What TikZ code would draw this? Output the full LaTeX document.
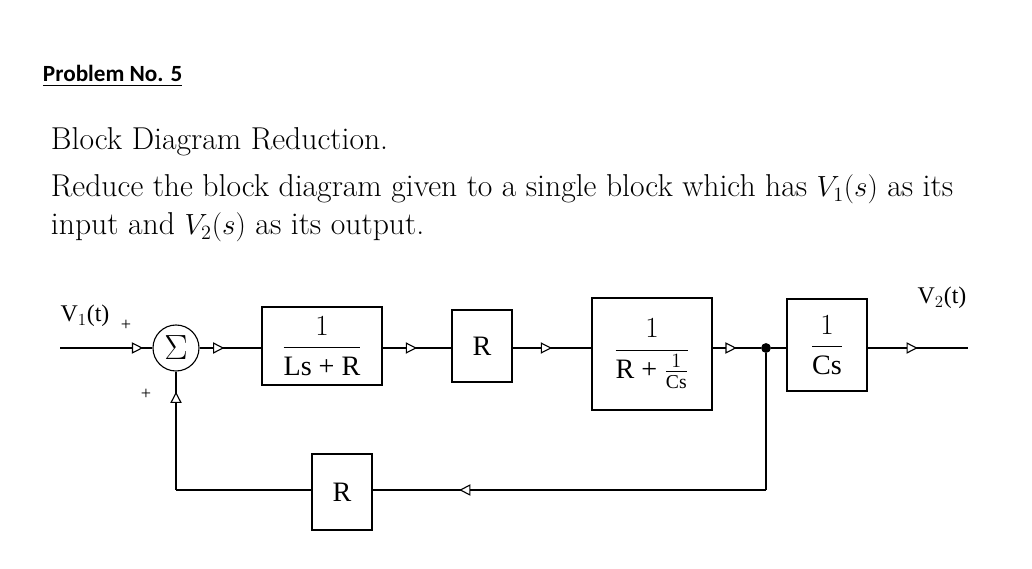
\documentclass[tikz,border=0pt]{standalone}
\usepackage{fontspec}
\usepackage{amsmath}
\setmainfont{Latin Modern Roman}
\newfontfamily\tms{Liberation Serif}
\newfontfamily\clb{Carlito}
\usetikzlibrary{arrows.meta,decorations.markings,positioning}
\tikzset{
  blk/.style={draw,thick,minimum width=#1,inner sep=0pt,font=\tms\fontsize{20}{22}\selectfont},
  sig/.style={thick,postaction={decorate},decoration={markings,
      mark=at position #1 with {\arrow{Triangle[open,length=8pt,width=8pt,fill=white]}}}},
  lbl/.style={font=\tms\fontsize{17}{19}\selectfont}
}
\begin{document}
\begin{tikzpicture}[x=0.025cm,y=-0.025cm]
  \useasboundingbox (0,0) rectangle (1032,569);
  % header and task
  \node[anchor=west,font=\clb\bfseries\fontsize{16.5}{18}\selectfont] (title) at (38,76) {\underline{Problem No. 5}};
  \node[anchor=west,font=\fontsize{22.5}{27}\selectfont] (head) at (46,142) {Block Diagram Reduction.};
  \node[anchor=north west,text width=22.55cm,align=justify,font=\fontsize{22.5}{27}\selectfont] (task) at (46,170)
    {Reduce the block diagram given to a single block which has $V_1(s)$ as its input and $V_2(s)$ as its output.};

  % forward path
  \coordinate (in) at (60,348);
  \node[draw,thick,circle,inner sep=0pt,minimum size=1.15cm,font=\fontsize{28}{30}\selectfont] (sum) at (176,348) {$\Sigma$};
  \node[blk=3cm,minimum height=1.95cm] (g1) at (322,346) {$\dfrac{1}{\text{Ls + R}}$};
  \node[blk=1.5cm,minimum height=1.8cm] (g2) at (482,346) {R};
  \node[blk=3cm,minimum height=2.8cm] (g3) at (652,354) {$\dfrac{1}{\text{R + }\frac{1}{\text{Cs}}}$};
  \node[circle,fill,inner sep=0pt,minimum size=7pt] (jn) at (766,348) {};
  \node[blk=2cm,minimum height=2.3cm] (g4) at (827,345) {$\dfrac{1}{\text{Cs}}$};
  \coordinate (out) at (968,348);

  \draw[sig=0.9] (in) -- (sum.west);
  \draw[sig=0.4] (sum.east) -- (g1.west |- sum.east);
  \draw[sig=0.5] (g1.east |- in) -- (g2.west |- in);
  \draw[sig=0.5] (g2.east |- in) -- (g3.west |- in);
  \draw[sig=0.5] (g3.east |- in) -- (jn);
  \draw[thick] (jn) -- (g4.west |- in);
  \draw[sig=0.5] (g4.east |- in) -- (out);

  % feedback path
  \node[blk=1.5cm,minimum height=1.9cm] (h) at (342,492) {R};
  \coordinate (c1) at (766,490);
  \coordinate (c2) at (176,490);
  \draw[thick] (jn) -- (c1);
  \draw[sig=0.78] (c1) -- (h.east |- c1);
  \draw[thick] (h.west |- c2) -- (c2);
  \draw[sig=0.83] (c2) -- (sum.south);

  % labels
  \node[lbl] (v1) at (85,316) {V$_1$(t)};
  \node[lbl] (v2) at (942,298) {V$_2$(t)};
  \node[font=\tms\fontsize{13}{14}\selectfont] (p1) at (126,325) {+};
  \node[font=\tms\fontsize{13}{14}\selectfont] (p2) at (146,394) {+};
\end{tikzpicture}
\end{document}
